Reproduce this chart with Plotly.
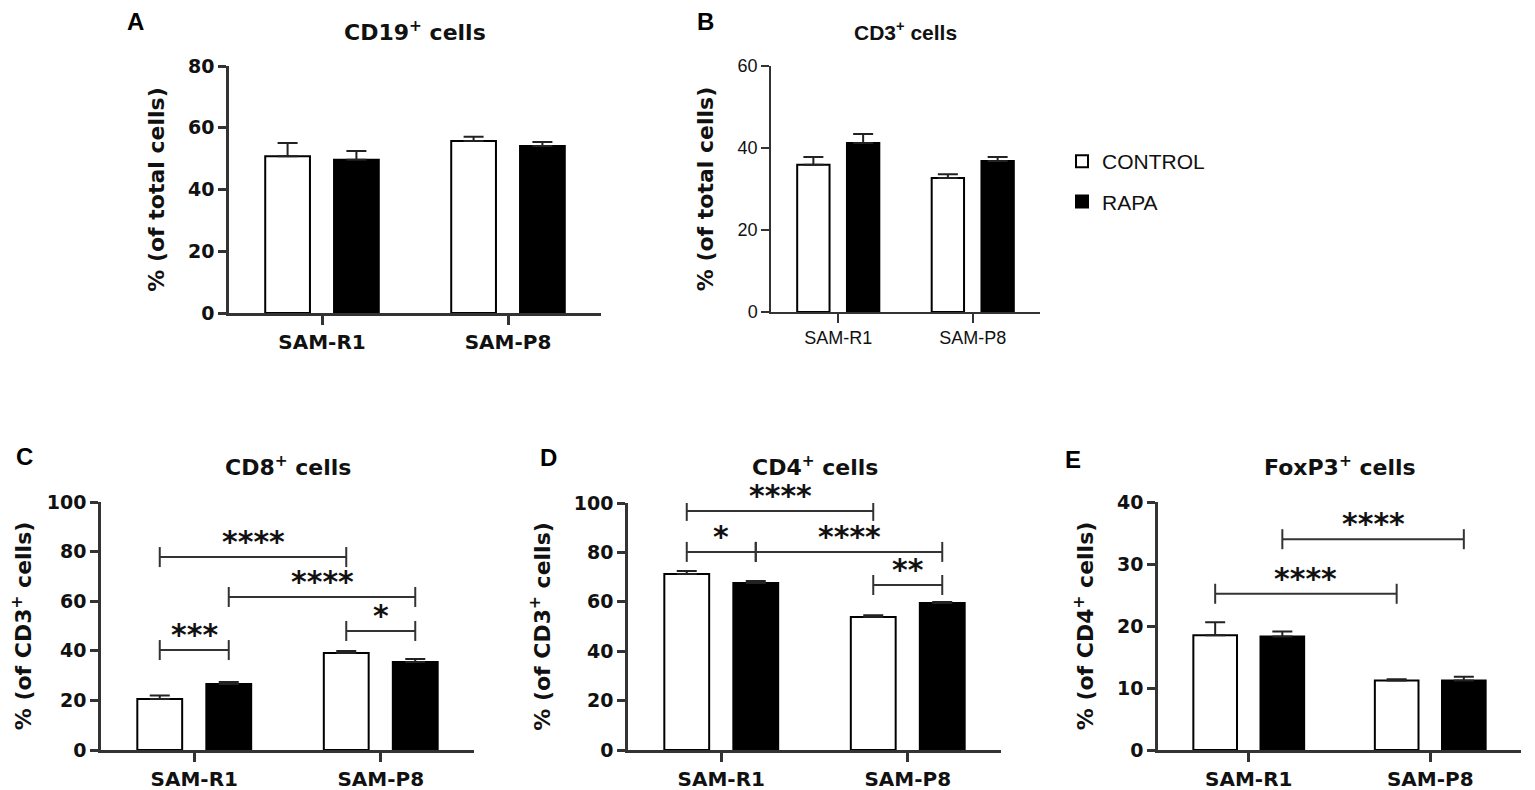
import plotly.graph_objects as go

# the page puts the figure 8px in from the top-left corner
PAD = 8
W, H = 1535 - PAD, 790 - PAD

groups = ["SAM-R1", "SAM-P8"]

# CD19+ cells (% of total cells)
cd19_control = [50.8, 55.7]
cd19_control_err = [4.3, 1.4]
cd19_rapa = [49.6, 54.1]
cd19_rapa_err = [2.9, 1.3]

# CD3+ cells (% of total cells)
cd3_control = [35.9, 32.7]
cd3_control_err = [1.9, 0.9]
cd3_rapa = [41.2, 36.8]
cd3_rapa_err = [2.2, 1.0]

# CD8+ cells (% of CD3+ cells)
cd8_control = [20.6, 39.1]
cd8_control_err = [1.4, 0.8]
cd8_rapa = [26.6, 35.5]
cd8_rapa_err = [0.8, 1.2]

# CD4+ cells (% of CD3+ cells)
cd4_control = [71.3, 53.8]
cd4_control_err = [1.2, 0.8]
cd4_rapa = [67.6, 59.5]
cd4_rapa_err = [0.8, 0.4]

# FoxP3+ cells (% of CD4+ cells)
foxp3_control = [18.5, 11.2]
foxp3_control_err = [2.1, 0.2]
foxp3_rapa = [18.3, 11.2]
foxp3_rapa_err = [0.8, 0.6]

# significance brackets: (group a, series a, group b, series b, height, label)
cd8_sig = [(0, 0, 1, 0, 77.8, "****"), (0, 1, 1, 1, 61.7, "****"),
           (1, 0, 1, 1, 48.0, "*"), (0, 0, 0, 1, 40.3, "***")]
cd4_sig = [(0, 0, 1, 0, 96.8, "****"), (0, 0, 0, 1, 80.2, "*"),
           (0, 1, 1, 1, 80.2, "****"), (1, 0, 1, 1, 66.8, "**")]
foxp3_sig = [(0, 0, 1, 0, 25.2, "****"), (0, 1, 1, 1, 34.0, "****")]

BOLD = "DejaVu Sans"
ARIAL = "Liberation Sans, Arial"

BARGAP = 0.26
BARGROUPGAP = 0.35
OFFSET = (1 - BARGAP) / 4  # centre of each bar relative to its group


def px(x):
    return (x - PAD) / W


def py(y):
    return 1 - (y - PAD) / H


# panel boxes in screen pixels: left, right, top, bottom
panels = [
    dict(letter="A", title="CD19<sup>+</sup> cells", ytitle="% (of total cells)",
         ctrl=cd19_control, ctrl_err=cd19_control_err, rapa=cd19_rapa, rapa_err=cd19_rapa_err,
         ymax=80, dtick=20, box=(229, 601, 66, 313), sig=[], plain=False,
         letter_pos=(135, 21)),
    dict(letter="B", title="CD3<sup>+</sup> cells", ytitle="% (of total cells)",
         ctrl=cd3_control, ctrl_err=cd3_control_err, rapa=cd3_rapa, rapa_err=cd3_rapa_err,
         ymax=60, dtick=20, box=(771, 1040, 66, 312), sig=[], plain=True,
         letter_pos=(705, 21)),
    dict(letter="C", title="CD8<sup>+</sup> cells", ytitle="% (of CD3<sup>+</sup> cells)",
         ctrl=cd8_control, ctrl_err=cd8_control_err, rapa=cd8_rapa, rapa_err=cd8_rapa_err,
         ymax=100, dtick=20, box=(101, 474, 502, 750), sig=cd8_sig, plain=False,
         letter_pos=(24, 456)),
    dict(letter="D", title="CD4<sup>+</sup> cells", ytitle="% (of CD3<sup>+</sup> cells)",
         ctrl=cd4_control, ctrl_err=cd4_control_err, rapa=cd4_rapa, rapa_err=cd4_rapa_err,
         ymax=100, dtick=20, box=(628, 1001, 503, 750), sig=cd4_sig, plain=False,
         letter_pos=(548, 457)),
    dict(letter="E", title="FoxP3<sup>+</sup> cells", ytitle="% (of CD4<sup>+</sup> cells)",
         ctrl=foxp3_control, ctrl_err=foxp3_control_err, rapa=foxp3_rapa, rapa_err=foxp3_rapa_err,
         ymax=40, dtick=10, box=(1158, 1521, 502, 750), sig=foxp3_sig, plain=False,
         letter_pos=(1073, 459)),
]

fig = go.Figure()
annotations = []
shapes = []

for i, p in enumerate(panels):
    n = "" if i == 0 else str(i + 1)
    xa, ya = "x" + n, "y" + n
    left, right, top, bottom = p["box"]
    lw = 1.5 if p["plain"] else 2.5

    for name, vals, errs, fill in [("CONTROL", p["ctrl"], p["ctrl_err"], "white"),
                                   ("RAPA", p["rapa"], p["rapa_err"], "black")]:
        fig.add_trace(go.Bar(
            x=groups, y=vals, name=name, xaxis=xa, yaxis=ya,
            legendgroup=name, showlegend=(i == 0),
            marker=dict(color=fill, line=dict(color="black", width=2)),
            error_y=dict(type="data", array=errs, arrayminus=[0] * len(errs),
                         symmetric=False, color="#222", thickness=2, width=10),
        ))

    if p["plain"]:
        tick_font = dict(family=ARIAL, size=18, color="#111")
        cat_font = dict(family=ARIAL, size=18, color="#111")
    else:
        tick_font = dict(family=BOLD, size=19, color="#111", weight="bold")
        cat_font = dict(family=BOLD, size=20, color="#111", weight="bold")

    fig.update_layout({
        "xaxis" + n: dict(domain=[px(left), px(right)], anchor=ya, range=[-0.5, 1.5],
                          showline=True, linecolor="#333", linewidth=lw,
                          ticks="outside", ticklen=9, tickwidth=lw, tickcolor="#333",
                          tickfont=cat_font, showgrid=False, fixedrange=True,
                          automargin=False),
        "yaxis" + n: dict(domain=[py(bottom), py(top)], anchor=xa,
                          range=[0, p["ymax"]], dtick=p["dtick"],
                          showline=True, linecolor="#333", linewidth=lw,
                          ticks="outside", ticklen=8, tickwidth=lw, tickcolor="#333",
                          tickfont=tick_font, showgrid=False, zeroline=False,
                          automargin=False,
                          title=dict(text=p["ytitle"], standoff=18,
                                     font=dict(family=BOLD, size=22, color="#111", weight="bold"))),
    })

    annotations.append(dict(text=p["title"], xref="paper", yref="paper",
                            x=px((left + right) / 2), y=py(466 if top > 400 else 31),
                            showarrow=False, xanchor="center", yanchor="middle",
                            font=dict(family=ARIAL if p["plain"] else BOLD,
                                      size=21 if p["plain"] else 22,
                                      color="#111", weight="bold")))
    lx, ly = p["letter_pos"]
    annotations.append(dict(text=p["letter"], xref="paper", yref="paper",
                            x=px(lx), y=py(ly), showarrow=False,
                            xanchor="center", yanchor="middle",
                            font=dict(family=ARIAL, size=24, color="#000", weight="bold")))

    for ga, sa, gb, sb, h, label in p["sig"]:
        x0 = ga + (OFFSET if sa else -OFFSET)
        x1 = gb + (OFFSET if sb else -OFFSET)
        line = dict(color="#333", width=2)
        shapes.append(dict(type="line", xref=xa, yref=ya, x0=x0, x1=x1, y0=h, y1=h, line=line))
        for xe in (x0, x1):
            shapes.append(dict(type="line", xref=xa, yref=ya, x0=xe, x1=xe,
                               ysizemode="pixel", yanchor=h, y0=-10, y1=10, line=line))
        annotations.append(dict(text=label, xref=xa, yref=ya, x=(x0 + x1) / 2, y=h,
                                showarrow=False, xanchor="center", yanchor="bottom",
                                yshift=-4, font=dict(family=BOLD, size=30, color="#111",
                                                     weight="bold")))

fig.update_layout(
    width=W, height=H,
    margin=dict(l=0, r=0, t=0, b=0, autoexpand=False),
    paper_bgcolor="white", plot_bgcolor="white",
    barmode="group", bargap=BARGAP, bargroupgap=BARGROUPGAP,
    annotations=annotations, shapes=shapes,
    legend=dict(x=px(1062), y=py(141), xanchor="left", yanchor="top",
                traceorder="grouped", tracegroupgap=10,
                font=dict(family=ARIAL, size=21, color="#111"),
                bgcolor="rgba(0,0,0,0)"),
)

fig.write_html("out.html")
